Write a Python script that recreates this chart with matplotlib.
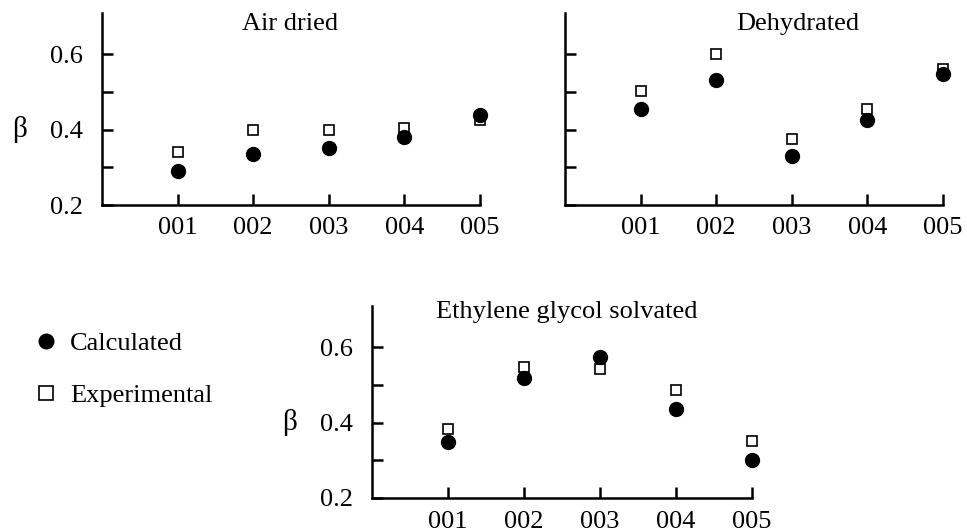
import matplotlib
matplotlib.use("Agg")
import matplotlib.pyplot as plt
from matplotlib.lines import Line2D

plt.rcParams['font.family'] = ['Liberation Serif', 'DejaVu Serif']

reflections = ["001", "002", "003", "004", "005"]
xpos = [1, 2, 3, 4, 5]

air_calc = [0.291, 0.336, 0.351, 0.380, 0.440]
air_exp = [0.342, 0.398, 0.398, 0.405, 0.425]
dehy_calc = [0.454, 0.532, 0.330, 0.425, 0.549]
dehy_exp = [0.502, 0.602, 0.374, 0.456, 0.560]
eg_calc = [0.350, 0.518, 0.574, 0.437, 0.300]
eg_exp = [0.384, 0.549, 0.543, 0.488, 0.352]

yticks = [0.2, 0.3, 0.4, 0.5, 0.6]
ylabels = ["0.2", "", "0.4", "", "0.6"]

W, H = 967, 531
fs = 19
fig = plt.figure(figsize=(W / 100, H / 100), dpi=100)


def panel(left, top, right, bottom, calc, exp, title, tx, ty, show_y):
    ax = fig.add_axes([left / W, 1 - bottom / H, (right - left) / W, (bottom - top) / H])
    ax.plot(xpos, calc, 'o', color='black', markersize=10, clip_on=False, zorder=3)
    ax.plot(xpos, exp, 's', markerfacecolor='white', markeredgecolor='black',
            markersize=7.5, markeredgewidth=1.2, clip_on=False, zorder=2)
    ax.set_xlim(0, 5)
    ax.set_ylim(0.2, 0.71)
    for s in ['top', 'right']:
        ax.spines[s].set_visible(False)
    for s in ['left', 'bottom']:
        ax.spines[s].set_linewidth(1.8)
    ax.set_xticks(xpos)
    ax.set_xticklabels(reflections)
    ax.set_yticks(yticks)
    ax.set_yticklabels(ylabels if show_y else [""] * 5)
    ax.tick_params(axis='both', direction='in', length=8, width=1.8, labelsize=fs)
    ax.tick_params(axis='x', pad=9)
    ax.tick_params(axis='y', pad=14)
    ax.text(tx, ty, title, transform=ax.transAxes, ha='center', va='center', fontsize=fs)
    if show_y:
        ax.text(-0.217, 0.4, "β", transform=ax.get_yaxis_transform(),
                ha='center', va='center', fontsize=fs + 2)
    return ax


panel(102, 13, 480, 205, air_calc, air_exp, "Air dried", 0.497, 0.943, True)
panel(565, 13, 943, 205, dehy_calc, dehy_exp, "Dehydrated", 0.616, 0.943, False)
panel(372, 306, 752, 498, eg_calc, eg_exp, "Ethylene glycol solvated", 0.513, 0.969, True)

handles = [
    Line2D([], [], linestyle='none', marker='o', color='black', markersize=10.5),
    Line2D([], [], linestyle='none', marker='s', markerfacecolor='white',
           markeredgecolor='black', markersize=10, markeredgewidth=1.2),
]
fig.legend(handles, ["Calculated", "Experimental"], loc='upper left',
           bbox_to_anchor=(33 / W, 1 - 332 / H), frameon=False, fontsize=fs,
           handlelength=1.0, handletextpad=0.4, labelspacing=1.07,
           borderpad=0, borderaxespad=0, numpoints=1)

fig.savefig("out.png", dpi=100)
